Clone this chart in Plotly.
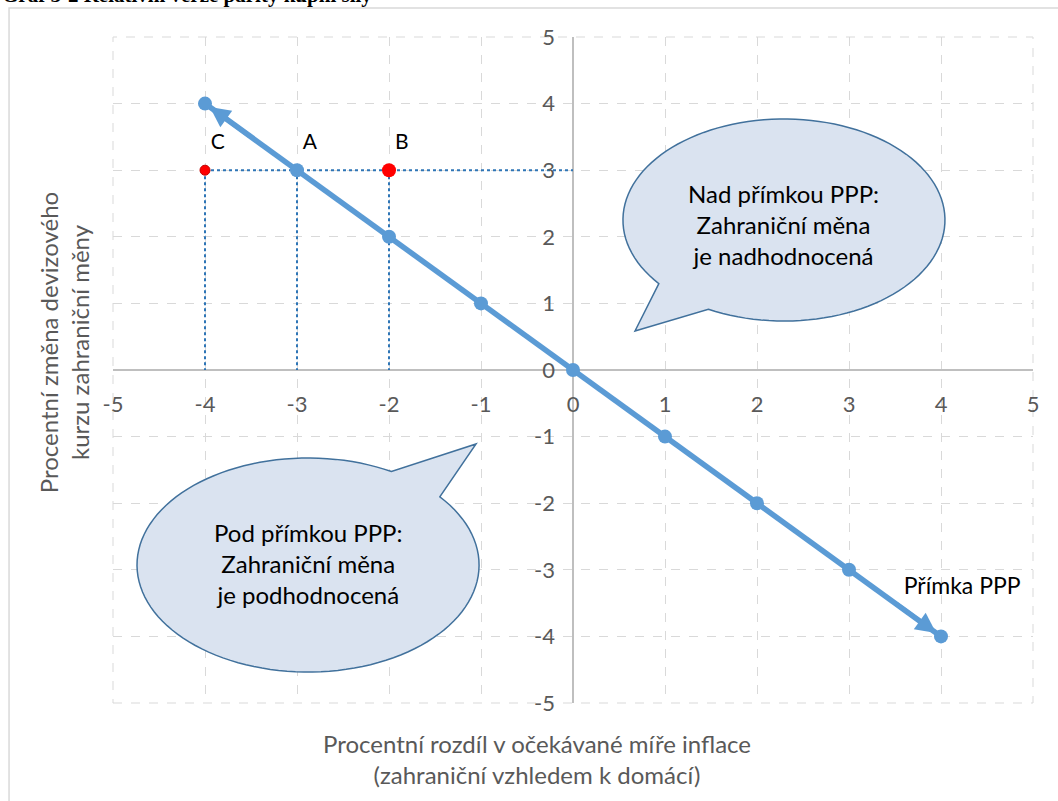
import numpy as np
import plotly.graph_objects as go

# ---- data ----
ppp_x = [-4, -3, -2, -1, 0, 1, 2, 3, 4]
ppp_y = [4, 3, 2, 1, 0, -1, -2, -3, -4]
ticks = [-5, -4, -3, -2, -1, 0, 1, 2, 3, 4, 5]
point_names = ["C", "A", "B"]
point_x = [-4, -3, -2]
point_y = [3, 3, 3]
guide_y0 = 0
guide_x_end = 0

FONT = "Lato"
GRAY = "#595959"
BLUE = "#5b9bd5"
DOT = "#2e75b6"
RED = "#ff0000"

fig = go.Figure()

# dotted guides
fig.add_trace(go.Scatter(x=[point_x[0], guide_x_end], y=[point_y[0], point_y[0]], mode="lines",
                         line=dict(color=DOT, width=2, dash="dot"), hoverinfo="skip"))
for px_, py_ in zip(point_x, point_y):
    fig.add_trace(go.Scatter(x=[px_, px_], y=[py_, guide_y0], mode="lines",
                             line=dict(color=DOT, width=2, dash="dot"), hoverinfo="skip"))

# PPP line
fig.add_trace(go.Scatter(x=ppp_x, y=ppp_y, mode="lines+markers",
                         line=dict(color=BLUE, width=5.5),
                         marker=dict(color=BLUE, size=14), hoverinfo="skip"))

# red points C and B
fig.add_trace(go.Scatter(x=[point_x[0]], y=[point_y[0]], mode="markers",
                         marker=dict(color=RED, size=10, line=dict(color="#c00000", width=1)), hoverinfo="skip"))
fig.add_trace(go.Scatter(x=[point_x[2]], y=[point_y[2]], mode="markers",
                         marker=dict(color=RED, size=14), hoverinfo="skip"))

# point labels
fig.add_trace(go.Scatter(x=[v + 0.14 for v in point_x], y=[v + 0.39 for v in point_y], mode="text",
                         text=point_names, textfont=dict(family=FONT, size=21, color="black"),
                         hoverinfo="skip"))
fig.add_trace(go.Scatter(x=[ppp_x[-1] + 0.23], y=[ppp_y[-1] + 0.73], mode="text",
                         text=["Přímka PPP"], textfont=dict(family=FONT, size=23, color="black"),
                         hoverinfo="skip"))

# arrowheads at both ends of the PPP line
for (x0, y0, x1, y1) in [(ppp_x[1], ppp_y[1], ppp_x[0], ppp_y[0]), (ppp_x[-2], ppp_y[-2], ppp_x[-1], ppp_y[-1])]:
    fig.add_annotation(x=x1, y=y1, ax=x0 + (x1 - x0) * 0.5, ay=y0 + (y1 - y0) * 0.5,
                       xref="x", yref="y", axref="x", ayref="y", text="",
                       showarrow=True, arrowhead=2, arrowsize=0.9, arrowwidth=4.5,
                       arrowcolor=BLUE, standoff=6)


# speech bubbles
def bubble(cx, cy, rx, ry, a_start, a_end, tip):
    t = np.radians(np.linspace(a_start, a_end, 120))
    xs = cx + rx * np.cos(t)
    ys = cy + ry * np.sin(t)
    path = "M {:.4f},{:.4f} ".format(xs[0], ys[0])
    path += " ".join("L {:.4f},{:.4f}".format(a, b) for a, b in zip(xs[1:], ys[1:]))
    path += " L {:.4f},{:.4f} Z".format(tip[0], tip[1])
    return path


fig.add_shape(type="path", xref="x", yref="y",
              path=bubble(2.293, 2.252, 1.75, 1.517, 242, 219 + 360, (0.674, 0.586)),
              fillcolor="#dae3f0", line=dict(color="#41719c", width=1.5), layer="above")
fig.add_shape(type="path", xref="x", yref="y",
              path=bubble(-2.88, -2.928, 1.859, 1.607, 60.8, 39.6 + 360, (-1.054, -1.111)),
              fillcolor="#dae3f0", line=dict(color="#41719c", width=1.5), layer="above")

fig.add_annotation(x=2.293, y=2.18, xref="x", yref="y", showarrow=False,
                   text="Nad přímkou PPP:<br>Zahraniční měna<br>je nadhodnocená",
                   font=dict(family=FONT, size=24, color="black"), align="center")
fig.add_annotation(x=-2.88, y=-2.91, xref="x", yref="y", showarrow=False,
                   text="Pod přímkou PPP:<br>Zahraniční měna<br>je podhodnocená",
                   font=dict(family=FONT, size=24, color="black"), align="center")

# axis titles
fig.add_annotation(x=-0.0538, y=0.541, xref="paper", yref="paper", showarrow=False, textangle=-90,
                   xanchor="center", yanchor="middle",
                   text="Procentní změna devizového<br>kurzu zahraniční měny",
                   font=dict(family=FONT, size=24, color=GRAY), align="center")
fig.add_annotation(x=0.461, y=-0.0845, xref="paper", yref="paper", showarrow=False,
                   xanchor="center", yanchor="middle",
                   text="Procentní rozdíl v očekávané míře inflace<br>(zahraniční vzhledem k domácí)",
                   font=dict(family=FONT, size=24, color=GRAY), align="center")

# cut-off title
fig.add_annotation(x=-0.1228, y=1.042, xref="paper", yref="paper", showarrow=False,
                   xanchor="left", yanchor="bottom",
                   text="<b>Graf 5-2 Relativní verze parity kupní síly</b>",
                   font=dict(family="Liberation Serif", size=21, color="black"))

# outer frame
fig.add_shape(type="rect", xref="paper", yref="paper", x0=-0.113, y0=-0.2, x1=1.05, y1=1.0435,
              line=dict(color="#d9d9d9", width=1.5), fillcolor="rgba(0,0,0,0)", layer="below")
# dashed plot-area border
fig.add_shape(type="rect", xref="paper", yref="paper", x0=0, y0=0, x1=1, y1=1,
              line=dict(color="#d9d9d9", width=1, dash="dash"), fillcolor="rgba(0,0,0,0)", layer="below")

axis_common = dict(range=[-5, 5], tickvals=ticks, ticktext=[str(t) for t in ticks],
                   showgrid=True, gridcolor="#d9d9d9", griddash="dash", gridwidth=1,
                   zeroline=True, zerolinecolor="#bfbfbf", zerolinewidth=1.5,
                   showline=False, ticks="", tickfont=dict(family=FONT, size=22, color=GRAY),
                   anchor="free", position=0.5, fixedrange=True)

fig.update_layout(
    width=1058, height=801,
    margin=dict(l=113, r=25, t=37, b=98),
    paper_bgcolor="white", plot_bgcolor="white",
    showlegend=False,
    xaxis=dict(axis_common, ticklabelstandoff=19),
    yaxis=dict(axis_common, ticklabelstandoff=18),
)

fig.write_html("out.html", config={"displayModeBar": False},
               post_script="document.body.style.margin='0px';document.body.style.overflow='hidden';")
